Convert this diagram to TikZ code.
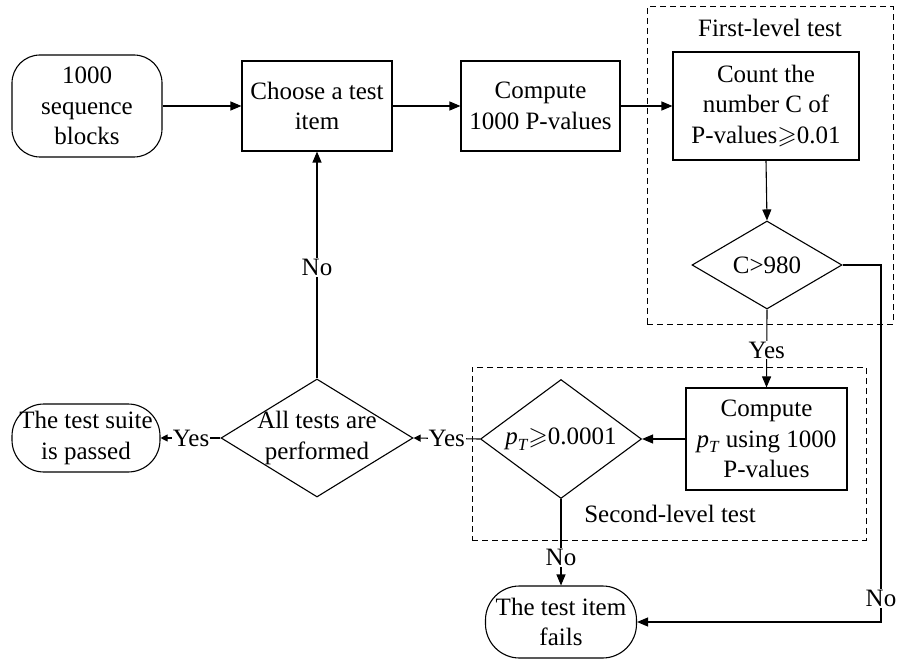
\documentclass[tikz,border=0pt]{standalone}
\usepackage{amssymb}
\usepackage{fontspec}
\setmainfont{Liberation Serif}
\usetikzlibrary{shapes.geometric,arrows.meta}
\newcommand{\pTsym}{\textit{p}\raisebox{-0.22em}{\fontsize{17}{17}\selectfont\textit{T}}}
\begin{document}
\begin{tikzpicture}[x=1pt,y=-1pt,
  every node/.style={font=\fontsize{25}{30.5}\selectfont},
  box/.style={draw,line width=1.1pt,align=center,inner sep=0pt},
  term/.style={box,rounded corners=30pt},
  dec/.style={draw,line width=1.1pt,diamond,inner sep=0pt},
  frame/.style={draw,line width=1pt,dash pattern=on 6pt off 4pt,inner sep=0pt},
  arr/.style={line width=1.1pt,-{Triangle[length=11pt,width=9pt]}},
  sarr/.style={line width=1.1pt,-{Triangle[length=7pt,width=7pt]}},
  lbl/.style={fill=white,inner sep=1pt}]
\useasboundingbox (0,0) rectangle (899,660);
% frames
\node[frame,minimum width=246,minimum height=317] (f1) at (770,165.5) {};
\node[frame,minimum width=394,minimum height=173] (f2) at (669,453.5) {};
\node (f1t) at (770,28) {First-level test};
\node (f2t) at (670,514) {Second-level test};
% nodes
\node[term,rounded corners=28pt,minimum width=150,minimum height=102] (start) at (87,106) {1000\\sequence\\blocks};
\node[box,minimum width=150,minimum height=90] (choose) at (317,106) {Choose a test\\item};
\node[box,minimum width=159,minimum height=90] (comp) at (540.5,106) {Compute\\1000 P-values};
\node[box,minimum width=186,minimum height=108] (count) at (766,106) {Count the\\number C of\\P-values$\geqslant$0.01};
\node[dec,minimum width=150,minimum height=88,label={center:C\textgreater980}] (c) at (767,265) {};
\node[box,minimum width=161,minimum height=102] (cpt) at (766.5,439) {Compute\\\pTsym{} using 1000\\P-values};
\node[dec,minimum width=161,minimum height=119,label={center:\pTsym$\geqslant$0.0001}] (pt) at (561,439) {};
\node[dec,minimum width=192,minimum height=118,label={[align=center]center:All tests are\\performed}] (all) at (317,438) {};
\node[term,rounded corners=32pt,minimum width=148,minimum height=68,align=center] (suite) at (86,438) {The test suite\\is passed};
\node[term,rounded corners=34pt,minimum width=151,minimum height=72,align=center] (fail) at (561,622) {The test item\\fails};
\coordinate (r) at (881,265);
% connectors
\draw[arr] (start.east) -- (choose.west);
\draw[arr] (choose.east) -- (comp.west);
\draw[arr] (comp.east) -- (count.west);
\draw[arr] (count.south) -- (c.north);
\draw[arr] (c.south) -- node[lbl,pos=0.52]{Yes} (cpt.north);
\draw[arr] (cpt.west) -- (pt.east);
\draw[sarr] (pt.west) -- node[lbl,pos=0.5]{Yes} (all.east);
\draw[sarr] (all.west) -- node[lbl,pos=0.49]{Yes} (suite.east);
\draw[arr] (all.north) -- node[lbl,pos=0.49]{No} (choose.south);
\draw[arr] (pt.south) -- node[lbl,pos=0.68]{No} (fail.north);
\draw[arr] (c.east) -- (r) -- node[lbl,pos=0.935]{No} (r |- fail.east) -- (fail.east);
\end{tikzpicture}
\end{document}
